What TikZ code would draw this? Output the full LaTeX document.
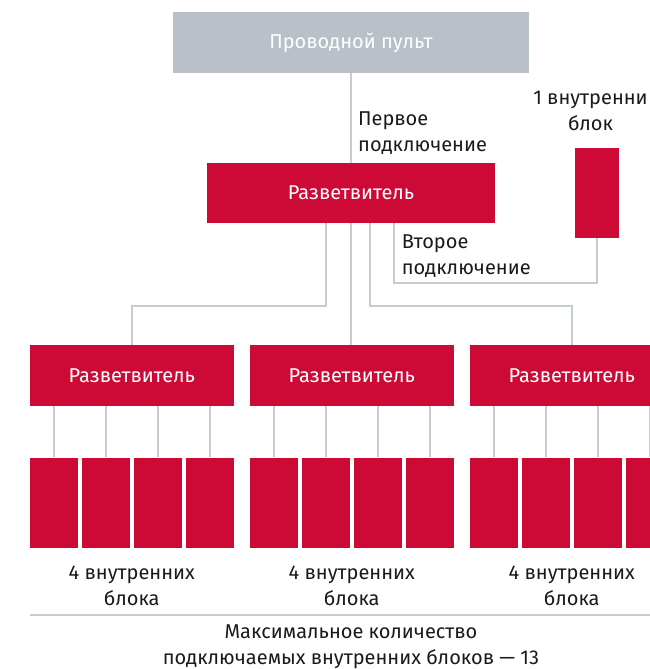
\documentclass[tikz,border=0pt]{standalone}
\usepackage{fontspec}
\setmainfont{Fira Sans}
\definecolor{splitred}{HTML}{CC0A35}
\definecolor{remotegray}{HTML}{B9C0C7}
\definecolor{wiregray}{HTML}{C5CCD2}
\definecolor{labeltext}{HTML}{1A1A1A}

\begin{document}
\begin{tikzpicture}
[x=1pt,y=-1pt,
  boxdecorate/.style={shape=rectangle,fill=splitred,text=white,inner sep=0pt,font=\fontsize{20}{26}\selectfont},
  unitdecorate/.style={shape=rectangle,fill=splitred,inner sep=0pt,minimum width=47.5pt,minimum height=90pt},
  linedecorate/.style={-,draw=wiregray,line width=1.5pt},
  labeldecorate/.style={text=labeltext,inner sep=0pt,font=\fontsize{20}{26}\selectfont}]
\useasboundingbox (0,0) rectangle (650,669);
\clip (0,0) rectangle (650,669);
%% boxes
\node (remote) at (351,42.5) [boxdecorate,fill=remotegray,minimum width=356pt,minimum height=61pt] {Проводной пульт};
\node (split0) at (351,193) [boxdecorate,minimum width=288pt,minimum height=60pt] {Разветвитель};
\node (single) at (597,193) [unitdecorate,minimum width=44pt] {};
\foreach \g/\x in {1/30,2/250,3/470}
{
  \node (split\g) at (\x+101.75,375.5) [boxdecorate,minimum width=203.5pt,minimum height=61pt] {Разветвитель};
  \foreach \i in {1,...,4}
    \node (unit\g\i) at (\x+23.75+52*\i-52,502.5) [unitdecorate] {};
  \node (count\g) at (\x+101.75,566) [labeldecorate,anchor=north,align=center] {4 внутренних\\блока};
}
%% labels
\node (first) at (358,112) [labeldecorate,anchor=north west,align=left] {Первое\\подключение};
\node (second) at (401.7,235) [labeldecorate,anchor=north west,align=left] {Второе\\подключение};
\node (singlelabel) at (590.5,91) [labeldecorate,anchor=north,align=center] {1 внутренни\\блок};
\node (total) at (351,625) [labeldecorate,anchor=north,align=center] {Максимальное количество\\подключаемых внутренних блоков — 13};
%% lines
\coordinate (turn1) at (326,306);
\coordinate (turn3) at (370,306);
\coordinate (turn4) at (394,283);
\draw[linedecorate] (remote) -- (split0);
\draw[linedecorate] (split0.south) -- (split0.south |- split2.north);
\foreach \t/\s in {turn1/split1, turn3/split3, turn4/single}
  \draw[linedecorate] (split0.south -| \t) -- (\t) -| (\s.south |- \t) -- (\s);
\foreach \g in {1,2,3}
  \foreach \i in {1,...,4}
    \draw[linedecorate] (split\g.south -| unit\g\i.north) -- (unit\g\i.north);
\draw[linedecorate,line width=2pt] (30,615) -- (650,615);
\end{tikzpicture}
\end{document}
